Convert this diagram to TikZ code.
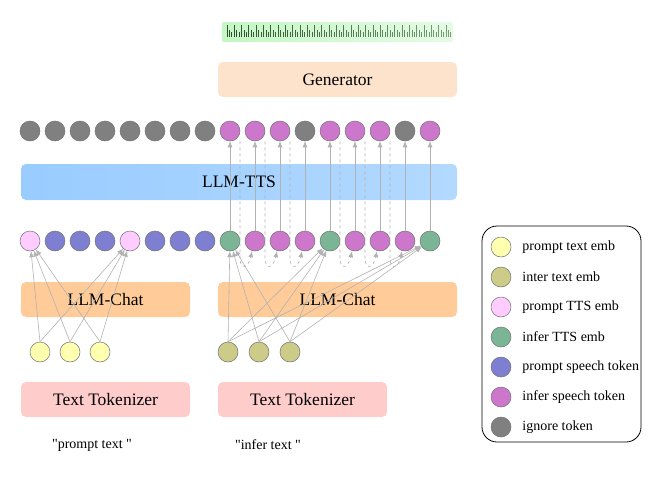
\documentclass[tikz,border=0pt]{standalone}
\usepackage{fontspec}
\setmainfont{Liberation Serif}
\usetikzlibrary{positioning,arrows.meta}

\definecolor{ptext}{HTML}{FFFFB0}
\definecolor{itext}{HTML}{CCCC88}
\definecolor{ptts}{HTML}{FFCCFF}
\definecolor{itts}{HTML}{7AB596}
\definecolor{pspk}{HTML}{7F7FD2}
\definecolor{ispk}{HTML}{CC77CC}
\definecolor{ign}{HTML}{808080}
\definecolor{genc}{HTML}{FDE3CC}
\definecolor{chatc}{HTML}{FFCC99}
\definecolor{tokc}{HTML}{FFCCCC}
\definecolor{ttsl}{HTML}{99CCFF}
\definecolor{ttsr}{HTML}{B3D9FF}
\definecolor{wavec}{HTML}{C4F7C4}
\definecolor{wline}{HTML}{2F4F2F}
\definecolor{wlight}{HTML}{9CB89C}

\begin{document}
\begin{tikzpicture}[x=1pt,y=-1pt,
	tok/.style={circle,draw=black!55,line width=0.5pt,minimum size=20pt,inner sep=0pt},
	blk/.style={rounded corners=5pt,minimum height=35pt,inner sep=0pt,font=\fontsize{17.5}{20}\selectfont},
	link/.style={-{Latex[length=6pt,width=5pt]},black!30,line width=0.6pt},
	fb/.style={link,dash pattern=on 3pt off 3pt},
	small/.style={font=\fontsize{14}{16}\selectfont,inner sep=0pt}]
	\useasboundingbox (0,0) rectangle (661,482);
	% waveform
	\node[minimum width=231pt,minimum height=20pt,inner sep=0pt,rounded corners=2pt,left color=wavec,right color=wavec!45] (wave) at (337.5,32) {};
	\foreach \k in {0,...,30} {
		\pgfmathsetmacro\xa{227+7.3*\k}
		\pgfmathtruncatemacro\sh{100-70*\k/30}
		\draw[wline!\sh!wlight,line width=1pt] (\xa,37) -- (\xa,25);
		\draw[wline!\sh!wlight,line width=0.8pt] ({\xa+2.4},37) -- ({\xa+2.4},30);
		\draw[wline!\sh!wlight,line width=0.8pt] ({\xa+4.8},37) -- ({\xa+4.8},32);
	}
	% blocks
	\node[blk,fill=genc,minimum width=239pt] (gen) at (337.5,79.5) {Generator};
	\node[blk,left color=ttsl,right color=ttsr,minimum width=436pt,minimum height=36pt] (tts) at (239,182) {LLM-TTS};
	\node[blk,fill=chatc,minimum width=169pt] (chat1) at (105.5,299.5) {LLM-Chat};
	\node[blk,fill=chatc,minimum width=239pt] (chat2) at (337.5,299.5) {LLM-Chat};
	\node[blk,fill=tokc,minimum width=169pt] (tokz1) at (105.5,399.5) {Text Tokenizer};
	\node[blk,fill=tokc,minimum width=169pt] (tokz2) at (302.5,399.5) {Text Tokenizer};
	\node[small] (ptxt) at (92,445) {\textquotedbl prompt text \textquotedbl};
	\node[small] (itxt) at (268,445) {\textquotedbl infer text \textquotedbl};
	% token rows
	\foreach \c [count=\i] in {ign,ign,ign,ign,ign,ign,ign,ign,ispk,ispk,ispk,ign,ispk,ispk,ispk,ign,ispk}
		\node[tok,fill=\c] (t\i) at ({5+25*\i},131) {};
	\foreach \c [count=\i] in {ptts,pspk,pspk,pspk,ptts,pspk,pspk,pspk,itts,ispk,ispk,ispk,itts,ispk,ispk,ispk,itts}
		\node[tok,fill=\c] (b\i) at ({5+25*\i},241) {};
	\foreach \x [count=\i] in {40,70,100}
		\node[tok,fill=ptext] (y\i) at (\x,352) {};
	\foreach \x [count=\i] in {228,259,290}
		\node[tok,fill=itext] (o\i) at (\x,352) {};
	% connectors
	\foreach \i in {1,2,3} {
		\draw[link] (y\i.north) -- (b1);
		\draw[link] (y\i.north) -- (b5);
		\foreach \g in {9,13,17}
			\draw[link] (o\i.north) -- (b\g);
	}
	\foreach \i in {9,...,17}
		\draw[link] (b\i) -- (t\i);
	\foreach \i in {9,10,11,13,14,15} {
		\pgfmathtruncatemacro\j{\i+1}
		\pgfmathsetmacro\xs{15+25*\i}
		\draw[fb] ([xshift=10pt]t\i.south) -- (\xs,258) .. controls (\xs,270) and ({\xs+8},269) .. ([xshift=-3pt]b\j.south);
	}
	% legend
	\node[draw,rounded corners=15pt,line width=0.8pt,minimum width=159pt,minimum height=216pt] (legend) at (561.5,334) {};
	\foreach \c/\t [count=\k] in {ptext/prompt text emb,itext/inter text emb,ptts/prompt TTS emb,itts/infer TTS emb,pspk/prompt speech token,ispk/infer speech token,ign/ignore token} {
		\node[tok,fill=\c] (l\k) at (501,{217+30*\k}) {};
		\node[small,right=11pt of l\k] (lt\k) {\t};
	}
\end{tikzpicture}
\end{document}
